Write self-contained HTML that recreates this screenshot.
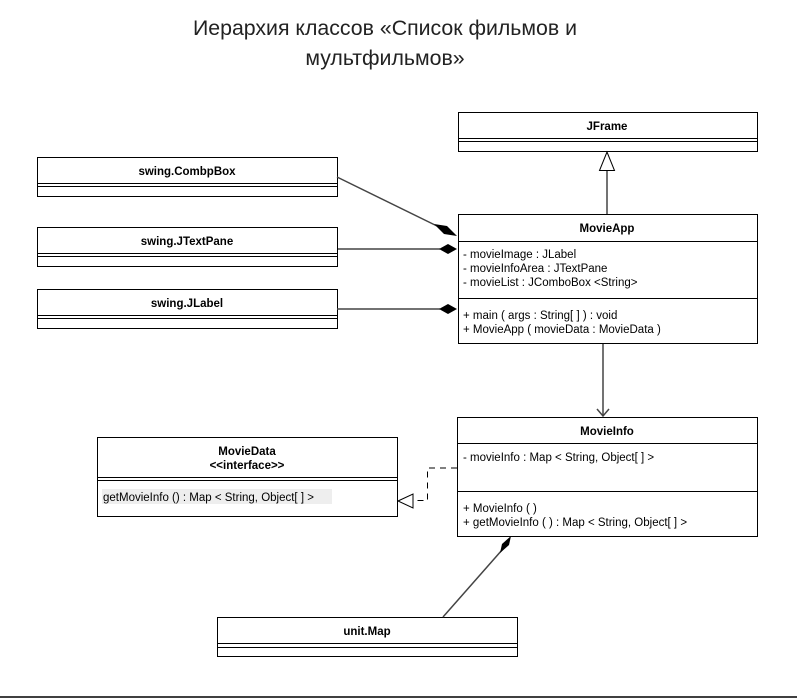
<!DOCTYPE html>
<html><head><meta charset="utf-8"><style>
html,body{margin:0;padding:0;background:#fff;}
svg{display:block;}
text{font-family:"Liberation Sans",Arial,sans-serif;font-size:11.5px;fill:#000;}
.b{font-weight:bold;}
</style></head><body>
<svg width="797" height="698" viewBox="0 0 797 698" xmlns="http://www.w3.org/2000/svg">
<text x="385" y="35" text-anchor="middle" style="font-size:21.3px;fill:#222">Иерархия классов «Список фильмов и</text>
<text x="385" y="65" text-anchor="middle" style="font-size:21.3px;fill:#222">мультфильмов»</text>
<g fill="#fff" stroke="#000" stroke-width="1">
<rect x="458.5" y="112.5" width="299" height="39"/>
<line x1="458" y1="138.5" x2="758" y2="138.5"/><line x1="458" y1="141.5" x2="758" y2="141.5"/>
<rect x="37.5" y="157.5" width="300" height="39"/>
<line x1="37" y1="183.5" x2="338" y2="183.5"/><line x1="37" y1="186.5" x2="338" y2="186.5"/>
<rect x="37.5" y="227.5" width="300" height="39"/>
<line x1="37" y1="253.5" x2="338" y2="253.5"/><line x1="37" y1="256.5" x2="338" y2="256.5"/>
<rect x="37.5" y="289.5" width="300" height="39"/>
<line x1="37" y1="315.5" x2="338" y2="315.5"/><line x1="37" y1="318.5" x2="338" y2="318.5"/>
<rect x="458.5" y="214.5" width="299" height="129"/>
<line x1="458" y1="241.5" x2="758" y2="241.5"/><line x1="458" y1="298.5" x2="758" y2="298.5"/>
<rect x="457.5" y="417.5" width="300" height="119"/>
<line x1="457" y1="443.5" x2="758" y2="443.5"/><line x1="457" y1="491.5" x2="758" y2="491.5"/>
<rect x="97.5" y="437.5" width="300" height="79"/>
<line x1="97" y1="477.5" x2="398" y2="477.5"/><line x1="97" y1="480.5" x2="398" y2="480.5"/>
<rect x="217.5" y="617.5" width="300" height="39"/>
<line x1="217" y1="643.5" x2="518" y2="643.5"/><line x1="217" y1="647.5" x2="518" y2="647.5"/>
</g>
<rect x="102" y="489" width="230" height="15" fill="#eee"/>
<g stroke="#444" stroke-width="1.5" fill="none">
<line x1="607" y1="171" x2="607" y2="214"/>
<line x1="337" y1="177" x2="437" y2="226"/>
<line x1="337" y1="249" x2="440" y2="249"/>
<line x1="337" y1="309" x2="440" y2="309"/>
<line x1="603" y1="344" x2="603" y2="416"/>
<polyline points="597,409 603,416 609,409"/>
<line x1="502" y1="550" x2="443" y2="617"/>
</g>
<line x1="337.5" y1="244" x2="337.5" y2="250" stroke="#000"/>
<polygon points="607,152 599.5,170.5 614.5,170.5" fill="#fff" stroke="#000"/>
<polygon points="434,224 447,226 457,236 444,234" fill="#000"/>
<polygon points="439,249 448,244 457,249 448,254" fill="#000"/>
<polygon points="439,309 448,304 457,309 448,314" fill="#000"/>
<polygon points="511,536 509,545 500,553 502,544" fill="#000"/>
<polyline points="457,468 427.5,468 427.5,500.5 413,500.5" fill="none" stroke="#000" stroke-dasharray="6,5"/>
<polygon points="398,501 413,494 413,508" fill="#fff" stroke="#000"/>
<line x1="0" y1="697" x2="797" y2="697" stroke="#000" stroke-width="1.5"/>
<text x="607" y="130" text-anchor="middle" class="b">JFrame</text>
<text x="187" y="175" text-anchor="middle" class="b">swing.CombpBox</text>
<text x="187" y="245" text-anchor="middle" class="b">swing.JTextPane</text>
<text x="187" y="307" text-anchor="middle" class="b">swing.JLabel</text>
<text x="607" y="232" text-anchor="middle" class="b">MovieApp</text>
<text x="463" y="258">- movieImage : JLabel</text>
<text x="463" y="272">- movieInfoArea : JTextPane</text>
<text x="463" y="286">- movieList : JComboBox &lt;String&gt;</text>
<text x="463" y="319">+ main ( args : String[ ] ) : void</text>
<text x="463" y="333">+ MovieApp ( movieData : MovieData )</text>
<text x="607" y="435" text-anchor="middle" class="b">MovieInfo</text>
<text x="463" y="461">- movieInfo : Map &lt; String, Object[ ] &gt;</text>
<text x="463" y="512">+ MovieInfo ( )</text>
<text x="463" y="526">+ getMovieInfo ( ) : Map &lt; String, Object[ ] &gt;</text>
<text x="247" y="455" text-anchor="middle" class="b">MovieData</text>
<text x="247" y="469" text-anchor="middle" class="b">&lt;&lt;interface&gt;&gt;</text>
<text x="103" y="501">getMovieInfo () : Map &lt; String, Object[ ] &gt;</text>
<text x="367" y="635" text-anchor="middle" class="b">unit.Map</text>
</svg>
</body></html>
